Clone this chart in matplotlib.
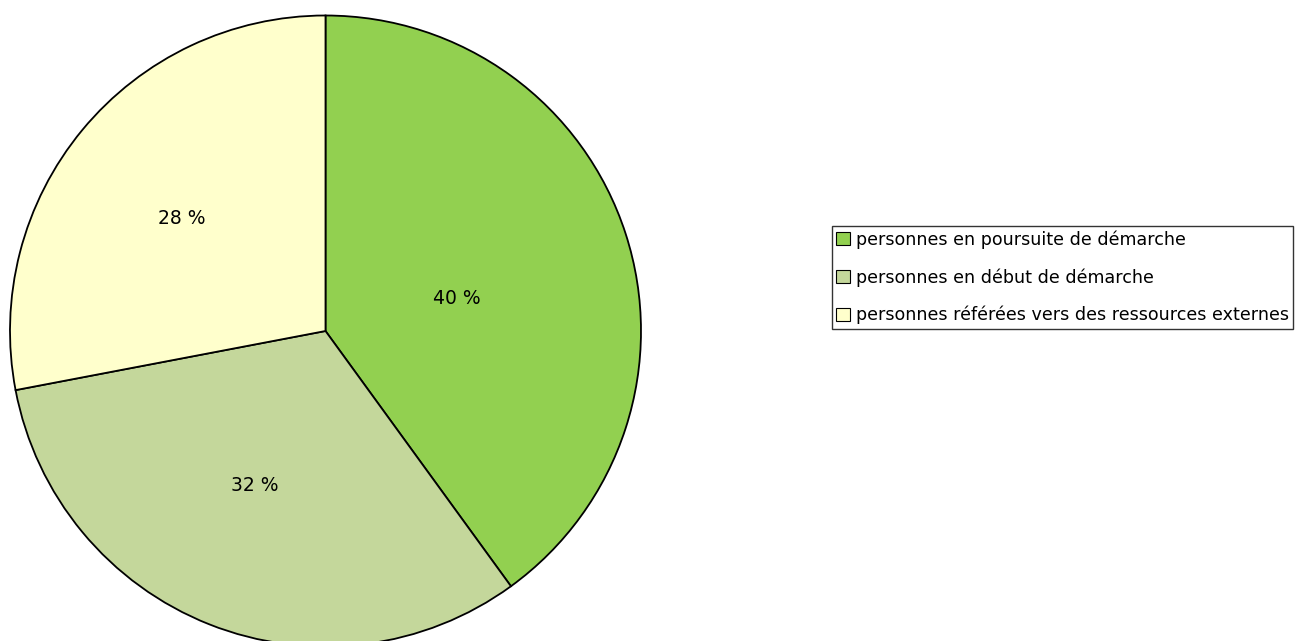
import matplotlib.pyplot as plt
import numpy as np

# data
categories = ["personnes en poursuite de démarche",
              "personnes en début de démarche",
              "personnes référées vers des ressources externes"]
values = [40, 32, 28]
colors = ["#92D050", "#C4D79B", "#FFFFCC"]

W, H = 1302, 641
fig = plt.figure(figsize=(W / 100, H / 100), dpi=100)
ax = fig.add_axes([0, 0, 1, 1])
ax.set_xlim(0, W)
ax.set_ylim(0, H)
ax.set_aspect("equal")
ax.axis("off")

wedges, texts, autotexts = ax.pie(
    values, colors=colors, startangle=90, counterclock=False,
    center=(325.5, H - 331), radius=315.5,
    autopct=lambda p: f"{p:.0f} %", pctdistance=0.5,
    wedgeprops=dict(edgecolor="black", linewidth=1.3),
    textprops=dict(fontsize=13.5, color="black"),
    frame=True)
ax.axis("off")

# push labels to where the reference has them
label_dist = [0.43, 0.54, 0.58]
label_shift = [-4, -3, 1.5]  # degrees
for w, t, d, s in zip(wedges, autotexts, label_dist, label_shift):
    ang = np.deg2rad((w.theta1 + w.theta2) / 2 + s)
    t.set_position((w.center[0] + d * w.r * np.cos(ang),
                    w.center[1] + d * w.r * np.sin(ang)))

leg = fig.legend(wedges, categories, loc="upper left",
                 bbox_to_anchor=(832 / W, 1 - 226 / H),
                 fontsize=12.6, frameon=True, fancybox=False,
                 edgecolor="black", handlelength=0.75, handleheight=0.75,
                 handletextpad=0.35, labelspacing=1.1, borderpad=0.25,
                 borderaxespad=0)
leg.get_frame().set_linewidth(1.0)
for h in leg.legend_handles:
    h.set_linewidth(0.8)

fig.savefig("out.png", dpi=100)
